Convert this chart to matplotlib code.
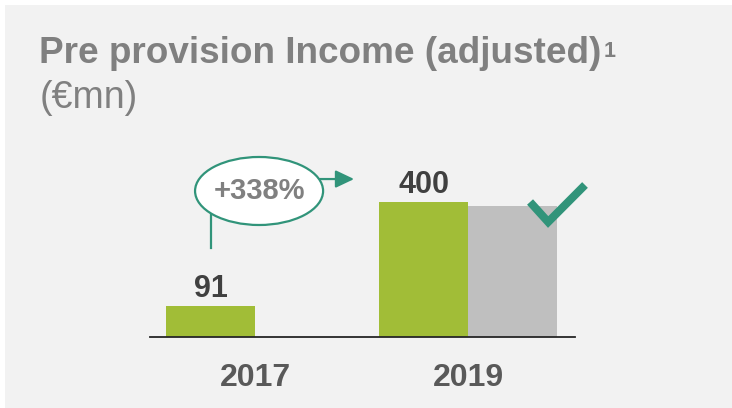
import matplotlib
matplotlib.use("Agg")
import matplotlib.pyplot as plt
import numpy as np
from matplotlib.patches import Rectangle, Ellipse

plt.rcParams['font.family'] = ['Liberation Sans', 'DejaVu Sans']

# ---- data ----
years = ["2017", "2019"]
actual = [91, 400]
plan = [np.nan, 388]
value_labels = ["91", "400"]
growth_label = "+338%"
title = "Pre provision Income (adjusted)"
title_note = "1"
unit = "(€mn)"

GREEN = "#a1bd37"
GREY_BAR = "#bfbfbf"
TEAL = "#31947a"
BG = "#f2f2f2"

W, H = 732, 408
fig = plt.figure(figsize=(W / 100, H / 100), dpi=100, facecolor="white")
bg = Rectangle((5 / W, 0), 1 - 5 / W, 1 - 5 / H, transform=fig.transFigure,
               facecolor=BG, edgecolor="none", zorder=-10)
fig.patches.append(bg)

ax = fig.add_axes([150 / W, 1 - 337 / H, 425 / W, 207 / H])
ax.set_zorder(1)
ax.set_facecolor("none")
x = np.arange(len(years))
w = 0.418
ax.bar(x - w / 2, actual, width=w, color=GREEN, zorder=2)
ax.bar(x + w / 2, plan, width=w, color=GREY_BAR, zorder=2)
ax.set_xlim(-0.493, 1.502)
ax.set_ylim(0, 613.3)

for xi, v, lab in zip(x, actual, value_labels):
    ax.annotate(lab, xy=(xi - w / 2, v), xytext=(0, 6.5), textcoords="offset points",
                ha="center", va="baseline", fontsize=22, fontweight="bold", color="#404040")

for s in ["top", "left", "right"]:
    ax.spines[s].set_visible(False)
ax.spines["bottom"].set_color("#262626")
ax.spines["bottom"].set_linewidth(1.3)
ax.set_yticks([])
ax.set_xticks(x)
ax.set_xticklabels(years, fontsize=23, fontweight="bold", color="#595959")
ax.tick_params(axis="x", length=0, pad=18.5)

# growth callout
ax.plot([x[0] - w / 2, x[0] - w / 2], [264, 361], color=TEAL, lw=1.6, zorder=3, clip_on=False)
ell = Ellipse((0.019, 432.6), 0.601, 201.5, facecolor="white", edgecolor=TEAL, lw=1.6, zorder=4,
              clip_on=False)
ax.add_patch(ell)
ax.text(0.019, 432.6, growth_label, ha="center", va="center", fontsize=21, fontweight="bold",
        color="#808080", zorder=5)
ax.annotate("", xy=(0.465, 468), xytext=(0.305, 468),
            arrowprops=dict(arrowstyle="-|>,head_length=0.8,head_width=0.38", color=TEAL, lw=1.6,
                            shrinkA=0, shrinkB=0, mutation_scale=14), zorder=4, annotation_clip=False)

# check mark
ax.plot([1.291, 1.376, 1.549], [400, 340.7, 450.4], color=TEAL, lw=5.8, solid_joinstyle="miter",
        solid_capstyle="butt", zorder=5, clip_on=False)

# titles
t = fig.text(39 / W, 1 - 63 / H, title, fontsize=26.6, fontweight="bold", color="#808080",
             va="baseline")
fig.canvas.draw()
bb = t.get_window_extent()
fig.text((bb.x1 + 2) / W, 1 - 57 / H, title_note, fontsize=15.5, fontweight="bold",
         color="#808080", va="baseline")
fig.text(40 / W, 1 - 108 / H, unit, fontsize=27, color="#808080", va="baseline")

fig.savefig("out.png", dpi=100, facecolor="white")
